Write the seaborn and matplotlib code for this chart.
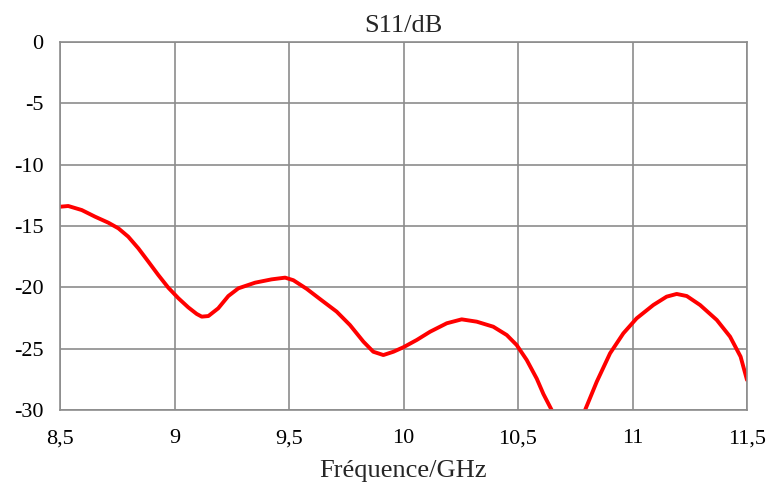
import matplotlib
matplotlib.use("Agg")
import matplotlib.pyplot as plt
import seaborn as sns
import pandas as pd

freq = [8.500, 8.536, 8.595, 8.653, 8.711, 8.755, 8.798, 8.842, 8.886, 8.929, 8.973, 9.017,
        9.060, 9.097, 9.119, 9.148, 9.191, 9.235, 9.279, 9.352, 9.424, 9.483, 9.519, 9.577,
        9.635, 9.708, 9.766, 9.825, 9.868, 9.912, 9.956, 9.999, 10.058, 10.116, 10.189,
        10.254, 10.320, 10.392, 10.451, 10.494, 10.538, 10.582, 10.611, 10.647, 10.68, 10.72,
        10.76, 10.793, 10.844, 10.902, 10.960, 11.018, 11.091, 11.149, 11.193, 11.237,
        11.295, 11.368, 11.426, 11.472, 11.500]
s11 = [-13.43, -13.37, -13.70, -14.24, -14.73, -15.19, -15.87, -16.82, -17.91, -18.99,
       -20.03, -20.89, -21.63, -22.17, -22.39, -22.34, -21.71, -20.71, -20.08, -19.62,
       -19.35, -19.21, -19.42, -20.12, -20.95, -21.98, -23.07, -24.43, -25.25, -25.52,
       -25.25, -24.89, -24.29, -23.62, -22.93, -22.61, -22.80, -23.21, -23.89, -24.70,
       -25.92, -27.45, -28.70, -30.0, -31.1, -31.7, -31.0, -30.0, -27.69, -25.38, -23.75,
       -22.53, -21.44, -20.76, -20.54, -20.71, -21.44, -22.66, -24.02, -25.65, -27.55]

x_ticks = [8.5, 9.0, 9.5, 10.0, 10.5, 11.0, 11.5]
x_tick_labels = ["8,5", "9", "9,5", "10", "10,5", "11", "11,5"]
y_ticks = [0, -5, -10, -15, -20, -25, -30]
y_tick_labels = ["0", "-5", "-10", "-15", "-20", "-25", "-30"]

title = "S11/dB"
xlabel = "Fréquence/GHz"

sns.set_style("white")
plt.rcParams['font.family'] = ['Liberation Serif', 'DejaVu Serif']

df = pd.DataFrame({"freq": freq, "s11": s11})

fig = plt.figure(figsize=(7.67, 4.84), dpi=100)
ax = fig.add_axes([60/767, 1 - 410/484, (747-60)/767, (410-42)/484])

sns.lineplot(data=df, x="freq", y="s11", ax=ax, color="#ff0000", linewidth=2.8, sort=True)
for ln in ax.lines:
    ln.set_solid_joinstyle("round")
    ln.set_solid_capstyle("round")

ax.set_xlim(8.5, 11.5)
ax.set_ylim(-30, 0)
ax.set_xticks(x_ticks)
ax.set_xticklabels(x_tick_labels)
ax.set_yticks(y_ticks)
ax.set_yticklabels(y_tick_labels)
ax.tick_params(axis='x', length=0, pad=14, labelsize=16, colors='black')
ax.tick_params(axis='y', length=0, pad=12, labelsize=16, colors='black')
ax.grid(True, color="#8c8c8c", linewidth=1.2)
ax.set_axisbelow(True)
for sp in ax.spines.values():
    sp.set_color("#8c8c8c")
    sp.set_linewidth(1.2)
ax.set_title(title, fontsize=19, pad=7)
ax.set_xlabel(xlabel, fontsize=19, labelpad=8)
ax.set_ylabel("")

fig.savefig("out.png", dpi=100)
